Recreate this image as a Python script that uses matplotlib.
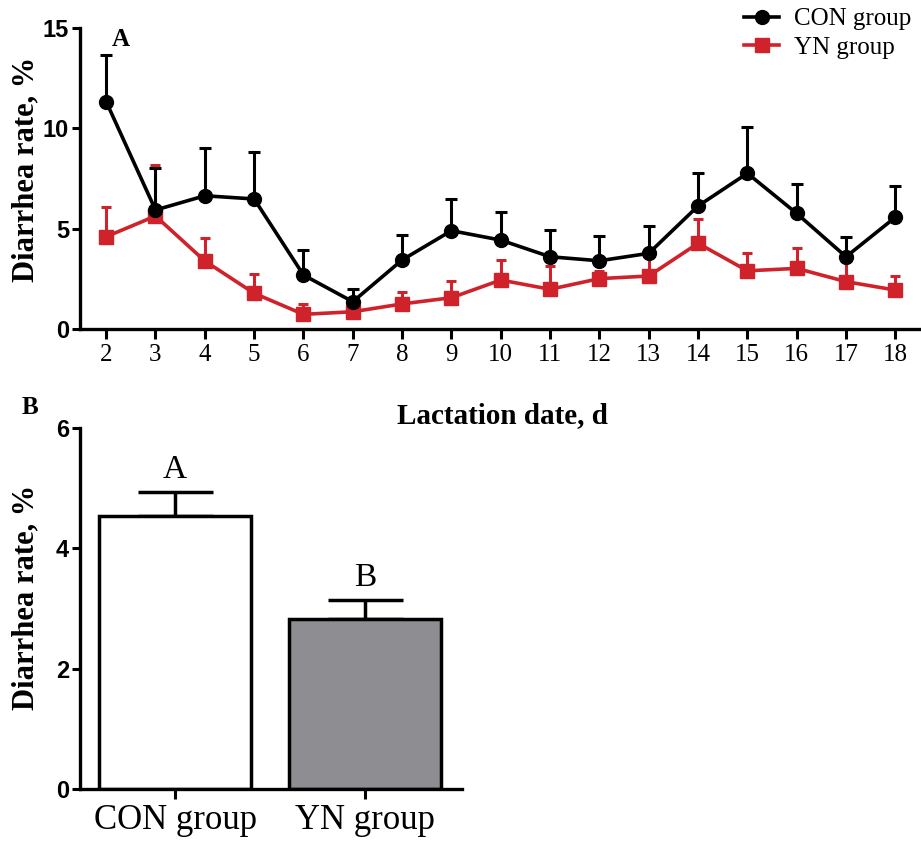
import numpy as np
import matplotlib.pyplot as plt
from matplotlib.lines import Line2D

# --------------------------------------------------
# Data
# --------------------------------------------------

days = [2, 3, 4, 5, 6, 7, 8, 9, 10, 11, 12, 13, 14, 15, 16, 17, 18]

con_mean = [11.33, 5.93, 6.64, 6.48, 2.69, 1.36, 3.44, 4.90, 4.43, 3.60,
            3.40, 3.77, 6.13, 7.76, 5.76, 3.60, 5.57]
con_err = [2.32, 2.07, 2.36, 2.35, 1.25, 0.62, 1.24, 1.56, 1.42, 1.33,
           1.23, 1.36, 1.63, 2.32, 1.45, 1.00, 1.57]

yn_mean = [4.60, 5.63, 3.39, 1.78, 0.73, 0.86, 1.25, 1.56, 2.44, 1.98,
           2.51, 2.64, 4.27, 2.90, 3.02, 2.36, 1.94]
yn_err = [1.46, 2.54, 1.13, 0.95, 0.52, 0.20, 0.59, 0.83, 1.00, 1.17,
          0.40, 1.06, 1.21, 0.87, 1.00, 1.08, 0.72]

groups = ["CON group", "YN group"]
group_mean = [4.54, 2.82]
group_err = [0.39, 0.32]
group_letters = ["A", "B"]

RED = "#D0222A"
GRAY = "#8D8D92"
SERIF = "Liberation Serif"
SANS = "Liberation Sans"

# --------------------------------------------------
# Figure
# --------------------------------------------------

fig = plt.figure(figsize=(9.21, 8.41), dpi=100)

ax1 = fig.add_axes([0.0869, 0.6088, 0.9131, 0.3579])
ax2 = fig.add_axes([0.0869, 0.0618, 0.4148, 0.4296])

# ---------- Panel A ----------
ax1.errorbar(days, yn_mean, yerr=[np.zeros(len(yn_err)), yn_err],
             color=RED, marker="s", markersize=10, linewidth=2.6,
             elinewidth=2.2, capsize=3.5, capthick=2.2, zorder=3)
ax1.errorbar(days, con_mean, yerr=[np.zeros(len(con_err)), con_err],
             color="black", marker="o", markersize=10, linewidth=2.6,
             elinewidth=2.2, capsize=4, capthick=2.2, zorder=4)

ax1.set_xlim(1.47, 18.52)
ax1.set_ylim(0, 15)
ax1.set_xticks(days)
ax1.set_yticks([0, 5, 10, 15])

handles = [
    Line2D([], [], color="black", marker="o", markersize=10, linewidth=2.6),
    Line2D([], [], color=RED, marker="s", markersize=10, linewidth=2.6),
]
ax1.legend(handles, groups, loc="upper left",
           bbox_to_anchor=(0.778, 1.1), frameon=False,
           prop={"family": SERIF, "size": 18},
           handlelength=1.4, handletextpad=0.6, labelspacing=0.25,
           borderaxespad=0)

ax1.set_ylabel("Diarrhea rate, %", fontsize=22, fontweight="bold",
               family=SERIF)
ax1.yaxis.set_label_coords(-0.047, 0.53)
ax1.text(0.038, 1.0, "A", transform=ax1.transAxes, fontsize=18,
         fontweight="bold", family=SERIF, va="top")

for lab in ax1.get_xticklabels():
    lab.set_family(SERIF)
    lab.set_fontsize(18)
for lab in ax1.get_yticklabels():
    lab.set_family(SANS)
    lab.set_fontweight("bold")
    lab.set_fontsize(17)

# ---------- Panel B ----------
x = np.arange(len(groups))
ax2.bar(x, group_mean, width=0.8, color=["white", GRAY],
        edgecolor="black", linewidth=2.5, zorder=2)
ax2.errorbar(x, group_mean, yerr=[[0, 0], group_err], fmt="none",
             ecolor="black", elinewidth=2.5, capsize=27, capthick=2.5,
             zorder=1)
for xi, m, e, t in zip(x, group_mean, group_err, group_letters):
    ax2.text(xi, m + e + 0.12, t, ha="center", va="bottom",
             fontsize=24, family=SERIF)

ax2.set_xlim(-0.5, 1.51)
ax2.set_ylim(0, 6)
ax2.set_xticks(x)
ax2.set_xticklabels(groups)
ax2.set_yticks([0, 2, 4, 6])
ax2.set_ylabel("Diarrhea rate, %", fontsize=22, fontweight="bold",
               family=SERIF)
ax2.yaxis.set_label_coords(-0.1035, 0.53)

for lab in ax2.get_xticklabels():
    lab.set_family(SERIF)
    lab.set_fontsize(25)
for lab in ax2.get_yticklabels():
    lab.set_family(SANS)
    lab.set_fontweight("bold")
    lab.set_fontsize(17)

fig.text(0.024, 0.515, "B", fontsize=18, fontweight="bold", family=SERIF,
         va="center")
fig.text(0.545, 0.506, "Lactation date, d", fontsize=21, fontweight="bold",
         family=SERIF, ha="center", va="center")

# ---------- Axes styling ----------
for ax in (ax1, ax2):
    ax.spines["top"].set_visible(False)
    ax.spines["right"].set_visible(False)
    ax.spines["left"].set_linewidth(2.4)
    ax.spines["bottom"].set_linewidth(2.4)
    ax.tick_params(axis="x", width=2.2, length=7, pad=4)
    ax.tick_params(axis="y", width=2.2, length=6, pad=2)

plt.savefig("out.png", dpi=100)
plt.close()
